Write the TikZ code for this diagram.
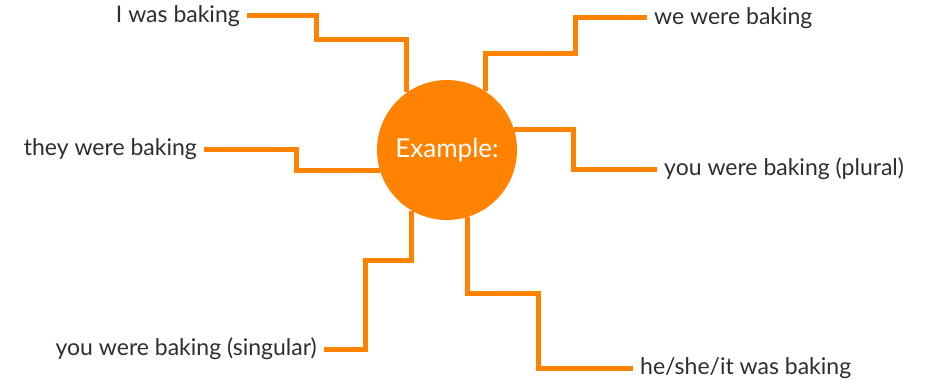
\documentclass[tikz,border=0pt]{standalone}
\usepackage{fontspec}
\setmainfont{Lato}
\usepackage{tikz}
\usetikzlibrary{positioning,calc}
\definecolor{exorange}{HTML}{FF8300}
\definecolor{exgrey}{HTML}{2E2E2E}
\tikzset{hub/.style={circle,fill=exorange,minimum size=140pt,inner sep=0pt,text=white,font=\fontsize{26}{30}\selectfont},
         tense/.style={inner xsep=7pt,inner ysep=0pt,text=exgrey,font=\fontsize{23}{27}\selectfont},
         link/.style={exorange,line width=5pt}
}

\begin{document}
\begin{tikzpicture}[x=1pt,y=-1pt]

\useasboundingbox (0,0) rectangle (931,385);
\node[hub] (ex) at (447,150) {Example:};
\node[tense,anchor=east] (iwas) at (247,16) {I was baking};
\node[tense,anchor=east] (they) at (204,149) {they were baking};
\node[tense,anchor=east] (sing) at (324,349) {you were baking (singular)};
\node[tense,anchor=west] (we) at (647,18) {we were baking};
\node[tense,anchor=west] (plural) at (657,169) {you were baking (plural)};
\node[tense,anchor=west] (he) at (633,368) {he/she/it was baking};
\draw[link] (ex.125) |- (316,40) |- (iwas.east);
\draw[link] (ex.197) -| (296,149) -- (they.east);
\draw[link] (ex.240) |- (365,260) |- (sing.east);
\draw[link] (ex.57) |- (575,54) |- (we.west);
\draw[link] (ex.17) -| (573,169) -- (plural.west);
\draw[link] (ex.287) |- (538,293) |- (he.west);

\end{tikzpicture}
\end{document}
